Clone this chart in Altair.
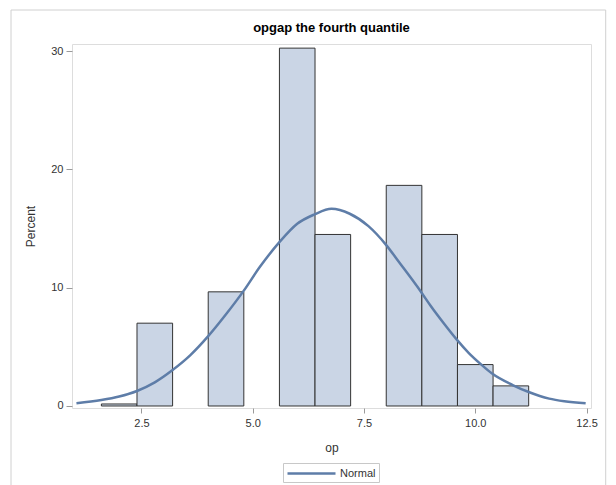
import altair as alt
import pandas as pd

# Histogram bins
bin_start = [1.6, 2.4, 4.0, 5.6, 6.4, 8.0, 8.8, 9.6, 10.4]
bin_end = [2.4, 3.2, 4.8, 6.4, 7.2, 8.8, 9.6, 10.4, 11.2]
percent = [0.17, 7.0, 9.65, 30.25, 14.5, 18.65, 14.5, 3.5, 1.7]

# Normal curve points
curve_x = [1.04, 1.6, 2.0, 2.4, 2.8, 3.2, 3.6, 4.0, 4.4, 4.8, 5.15, 5.6, 6.0, 6.39, 6.77, 7.18,
           7.6, 8.0, 8.29, 8.79, 9.0, 9.3, 9.58, 9.85, 10.13, 10.37, 10.84, 11.2, 11.66, 12.0, 12.48]
curve_y = [0.23, 0.5, 0.8, 1.27, 2.0, 3.04, 4.3, 5.9, 7.75, 9.75, 11.7, 13.85, 15.4, 16.2, 16.67, 16.25,
           15.2, 13.6, 12.15, 9.6, 8.45, 6.95, 5.63, 4.5, 3.52, 2.76, 1.77, 1.18, 0.62, 0.4, 0.23]

bars_df = pd.DataFrame({"start": bin_start, "end": bin_end, "pct": percent})
curve_df = pd.DataFrame({"x": curve_x, "y": curve_y, "series": ["Normal"] * len(curve_x)})

FONT = "Liberation Sans"
xscale = alt.Scale(domain=[0.94, 12.6], nice=False, zero=False)
yscale = alt.Scale(domain=[-0.17, 30.6], nice=False, zero=False)

xaxis = alt.Axis(values=[2.5, 5.0, 7.5, 10.0, 12.5], format=".1f", title="op",
                 grid=False, domain=False, tickSize=5, tickColor="#9a9a9a",
                 labelPadding=4, labelFont=FONT, labelFontSize=11, labelColor="#333333",
                 titleFont=FONT, titleFontSize=12, titleFontWeight="normal",
                 titleColor="#333333", titlePadding=14)
yaxis = alt.Axis(values=[0, 10, 20, 30], title="Percent", grid=False, domain=False,
                 tickSize=6, tickColor="#9a9a9a", labelPadding=3, labelFont=FONT,
                 labelFontSize=11, labelColor="#333333", titleFont=FONT, titleFontSize=12,
                 titleFontWeight="normal", titleColor="#333333", titlePadding=13)

bars = alt.Chart(bars_df).mark_rect(fill="#CAD5E5", stroke="#333333", strokeWidth=1).encode(
    x=alt.X("start:Q", scale=xscale, axis=xaxis),
    x2="end:Q",
    y=alt.Y("pct:Q", scale=yscale, axis=yaxis),
    y2=alt.datum(0),
)

curve = alt.Chart(curve_df).mark_line(strokeWidth=2.5, interpolate="monotone").encode(
    x=alt.X("x:Q", scale=xscale),
    y=alt.Y("y:Q", scale=yscale),
    color=alt.Color("series:N", scale=alt.Scale(range=["#5E7DA8"]),
                    legend=alt.Legend(title=None, orient="none", legendX=211, legendY=419,
                                      symbolType="M-1,0H7", symbolSize=144,
                                      symbolStrokeWidth=2.5, labelOffset=39, labelFont=FONT,
                                      labelFontSize=11, labelColor="#333333",
                                      strokeColor="#c8c8c8", padding=3)),
)

border = alt.Chart(pd.DataFrame({"a": [0]})).mark_rect(
    fill=None, stroke="#d0d0d0", strokeWidth=1, clip=False
).encode(x=alt.value(-61), x2=alt.value(533.7), y=alt.value(-34), y2=alt.value(460))

chart = alt.layer(border, bars, curve).properties(
    width=519, height=364,
    padding={"left": 72, "top": 44, "right": 25, "bottom": 77},
    autosize=alt.AutoSizeParams(type="none"),
    title=alt.Title("opgap the fourth quantile", font=FONT, fontSize=13, frame="group",
                    fontWeight="bold", color="#000000", anchor="middle", offset=-25),
).configure_view(stroke="#a8a8a8", strokeWidth=1).configure(background="white")

chart.save("out.html", embed_options={"renderer": "svg", "actions": False})
